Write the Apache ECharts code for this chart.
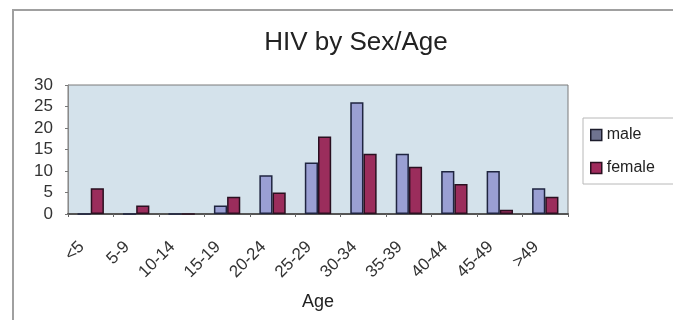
<!DOCTYPE html>
<html>
<head>
<meta charset="utf-8">
<script src="https://cdn.jsdelivr.net/npm/echarts@6/dist/echarts.min.js"></script>
<style>
  html, body { margin: 0; padding: 0; background: #ffffff; }
  #chart { width: 673px; height: 320px; }
</style>
</head>
<body>
<div id="chart"></div>
<script>
// Age groups and HIV case counts by sex
const ageGroups = ['<5', '5-9', '10-14', '15-19', '20-24', '25-29', '30-34', '35-39', '40-44', '45-49', '>49'];
const maleCases = [0, 0, 0, 2, 9, 12, 26, 14, 10, 10, 6];
const femaleCases = [6, 2, 0, 4, 5, 18, 14, 11, 7, 1, 4];
const yTicks = { min: 0, max: 30, interval: 5 };

const chart = echarts.init(document.getElementById('chart'), null, { renderer: 'canvas' });

const font = 'Liberation Sans, Arial, sans-serif';

chart.setOption({
  animation: false,
  backgroundColor: '#ffffff',
  title: {
    text: 'HIV by Sex/Age',
    left: 351,
    top: 25,
    textAlign: 'center',
    textStyle: { fontFamily: font, fontSize: 26, fontWeight: 'normal', color: '#222' }
  },
  graphic: [
    {
      type: 'polyline',
      shape: { points: [[13, 320], [13, 10], [673, 10]] },
      style: { stroke: '#a0a0a0', lineWidth: 2, fill: null }
    }
  ],
  legend: {
    orient: 'vertical',
    left: 583,
    top: 118,
    padding: [9, 20, 8, 7],
    itemGap: 17,
    itemWidth: 11,
    itemHeight: 11,
    icon: 'rect',
    borderColor: '#b8b8b8',
    borderWidth: 1,
    backgroundColor: '#ffffff',
    textStyle: { fontFamily: font, fontSize: 16, color: '#222' },
    data: [
      { name: 'male', itemStyle: { color: '#6f7390', borderColor: '#1c1c2c', borderWidth: 1.5 } },
      { name: 'female', itemStyle: { color: '#a02a5c', borderColor: '#2a1020', borderWidth: 1.5 } }
    ]
  },
  grid: {
    left: 68,
    right: 105,
    top: 85,
    bottom: 106,
    show: true,
    backgroundColor: '#d4e2eb',
    borderColor: '#7a7a7a',
    borderWidth: 1
  },
  xAxis: {
    type: 'category',
    data: ageGroups,
    name: 'Age',
    nameLocation: 'middle',
    nameGap: 79,
    nameTextStyle: { fontFamily: font, fontSize: 18, color: '#222' },
    axisLine: { lineStyle: { color: '#555', width: 2 } },
    axisTick: { show: true, length: 3, lineStyle: { color: '#666' } },
    axisLabel: {
      rotate: 45,
      margin: 21,
      padding: [0, 13, 0, 0],
      fontFamily: font,
      fontSize: 17,
      color: '#333'
    }
  },
  yAxis: {
    type: 'value',
    min: yTicks.min,
    max: yTicks.max,
    interval: yTicks.interval,
    axisLine: { show: true, lineStyle: { color: '#8a8a8a', width: 1 } },
    axisTick: { show: true, length: 3, lineStyle: { color: '#777' } },
    splitLine: { show: false },
    axisLabel: { fontFamily: font, fontSize: 17, color: '#333', margin: 15 }
  },
  series: [
    {
      name: 'male',
      type: 'bar',
      data: maleCases,
      barGap: '0%',
      barCategoryGap: '42%',
      itemStyle: { color: '#9a9fd3', borderColor: '#1f2540', borderWidth: 1.5 }
    },
    {
      name: 'female',
      type: 'bar',
      data: femaleCases,
      itemStyle: { color: '#9b2d5c', borderColor: '#2a1020', borderWidth: 1.5 }
    }
  ]
});
</script>
</body>
</html>
